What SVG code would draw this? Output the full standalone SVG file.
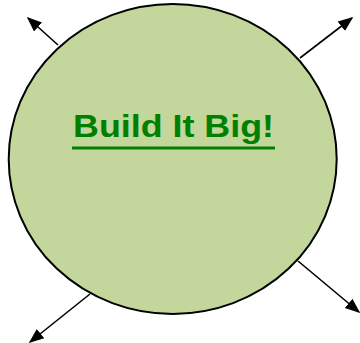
<svg xmlns="http://www.w3.org/2000/svg" width="360" height="343" viewBox="0 0 360 343">
<style>
.conn{stroke:#000;stroke-width:1.6;fill:none;marker-end:url(#ah);}
.title{font-family:"Liberation Sans",Arial,sans-serif;font-weight:bold;font-size:32px;fill:#008000;}
</style>
<defs>
<marker id="ah" viewBox="0 0 10 10" refX="9" refY="5" markerWidth="15" markerHeight="15" orient="auto" markerUnits="userSpaceOnUse">
<path d="M0,1 L10,5 L0,9 Z" fill="#000"/>
</marker>
</defs>
<g id="circle-node">
<ellipse cx="172.7" cy="159" rx="164" ry="155" fill="#c3d69b" stroke="#000" stroke-width="2"/>
<text class="title" x="73" y="137" textLength="201" lengthAdjust="spacingAndGlyphs">Build It Big!</text>
<line x1="72" y1="148" x2="275" y2="148" stroke="#008000" stroke-width="3"/>
</g>
<g id="connectors">
<line class="conn" x1="58" y1="45" x2="28" y2="18"/>
<line class="conn" x1="300" y1="58" x2="352" y2="18"/>
<line class="conn" x1="90" y1="294" x2="30" y2="342"/>
<line class="conn" x1="298" y1="261" x2="359" y2="312"/>
</g>
</svg>
